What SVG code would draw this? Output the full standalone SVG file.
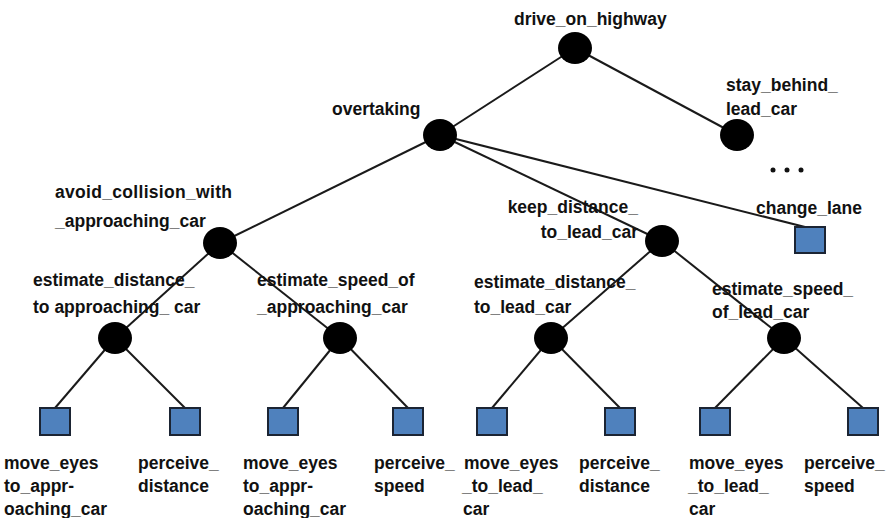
<svg xmlns="http://www.w3.org/2000/svg" width="888" height="518" viewBox="0 0 888 518">
  <style>
    .edge { stroke: #1a1a1a; stroke-width: 2; fill: none; }
    .goal { fill: #000; }
    .act { fill: #4f81bd; stroke: #1b2433; stroke-width: 2; }
    text { font-family: "Liberation Sans", Arial, sans-serif; font-weight: bold; font-size: 17.5px; fill: #111; }
  </style>
  <rect width="888" height="518" fill="#fff"/>

  <!-- connectors -->
  <g id="edges">
    <line class="edge" x1="575" y1="48" x2="440" y2="135"/>
    <line class="edge" x1="575" y1="48" x2="737" y2="135"/>
    <line class="edge" x1="440" y1="135" x2="220" y2="243"/>
    <line class="edge" x1="440" y1="135" x2="662" y2="241"/>
    <line class="edge" x1="440" y1="135" x2="809" y2="228"/>
    <line class="edge" x1="220" y1="243" x2="115" y2="338"/>
    <line class="edge" x1="220" y1="243" x2="340" y2="338"/>
    <line class="edge" x1="662" y1="241" x2="551" y2="338"/>
    <line class="edge" x1="662" y1="241" x2="784" y2="338"/>
    <line class="edge" x1="115" y1="338" x2="55" y2="408"/>
    <line class="edge" x1="115" y1="338" x2="185" y2="408"/>
    <line class="edge" x1="340" y1="338" x2="283" y2="408"/>
    <line class="edge" x1="340" y1="338" x2="408" y2="408"/>
    <line class="edge" x1="551" y1="338" x2="492" y2="408"/>
    <line class="edge" x1="551" y1="338" x2="620" y2="408"/>
    <line class="edge" x1="784" y1="338" x2="715" y2="408"/>
    <line class="edge" x1="784" y1="338" x2="863" y2="408"/>
  </g>

  <g id="drive_on_highway">
    <ellipse class="goal" cx="575" cy="48" rx="17" ry="16"/>
    <text x="514" y="25">drive_on_highway</text>
  </g>
  <g id="overtaking">
    <ellipse class="goal" cx="440" cy="135" rx="17" ry="16"/>
    <text x="332" y="115">overtaking</text>
  </g>
  <g id="stay_behind_lead_car">
    <ellipse class="goal" cx="737" cy="135" rx="17" ry="16"/>
    <text x="726" y="91">stay_behind_</text>
    <text x="726" y="115">lead_car</text>
  </g>
  <g id="more">
    <circle cx="773" cy="170" r="2.5" fill="#111"/>
    <circle cx="787" cy="170" r="2.5" fill="#111"/>
    <circle cx="801" cy="170" r="2.5" fill="#111"/>
  </g>
  <g id="change_lane">
    <rect class="act" x="795" y="227" width="30" height="26"/>
    <text x="756" y="214">change_lane</text>
  </g>
  <g id="avoid_collision_with_approaching_car">
    <ellipse class="goal" cx="220" cy="243" rx="17" ry="16"/>
    <text x="55" y="198" textLength="177">avoid_collision_with</text>
    <text x="55" y="227">_approaching_car</text>
  </g>
  <g id="keep_distance_to_lead_car">
    <ellipse class="goal" cx="662" cy="241" rx="17" ry="16"/>
    <text x="638" y="213" text-anchor="end">keep_distance_</text>
    <text x="638" y="238" text-anchor="end">to_lead_car</text>
  </g>

  <g id="estimate_distance_to_approaching_car">
    <ellipse class="goal" cx="115" cy="338" rx="17" ry="16"/>
    <text x="33" y="286">estimate_distance_</text>
    <text x="33" y="313">to approaching_ car</text>
  </g>
  <g id="estimate_speed_of_approaching_car">
    <ellipse class="goal" cx="340" cy="338" rx="17" ry="16"/>
    <text x="257" y="286">estimate_speed_of</text>
    <text x="257" y="313">_approaching_car</text>
  </g>
  <g id="estimate_distance_to_lead_car">
    <ellipse class="goal" cx="551" cy="338" rx="17" ry="16"/>
    <text x="474" y="288">estimate_distance_</text>
    <text x="474" y="313">to_lead_car</text>
  </g>
  <g id="estimate_speed_of_lead_car">
    <ellipse class="goal" cx="784" cy="338" rx="17" ry="16"/>
    <text x="712" y="295">estimate_speed_</text>
    <text x="712" y="318">of_lead_car</text>
  </g>

  <g id="leaf1">
    <rect class="act" x="40" y="408" width="30" height="27"/>
    <text x="4" y="469">move_eyes</text>
    <text x="4" y="492">to_appr-</text>
    <text x="4" y="515">oaching_car</text>
  </g>
  <g id="leaf2">
    <rect class="act" x="170" y="408" width="30" height="27"/>
    <text x="138" y="469">perceive_</text>
    <text x="138" y="492">distance</text>
  </g>
  <g id="leaf3">
    <rect class="act" x="268" y="408" width="30" height="27"/>
    <text x="243" y="469">move_eyes</text>
    <text x="243" y="492">to_appr-</text>
    <text x="243" y="515">oaching_car</text>
  </g>
  <g id="leaf4">
    <rect class="act" x="393" y="408" width="30" height="27"/>
    <text x="374" y="469">perceive_</text>
    <text x="374" y="492">speed</text>
  </g>
  <g id="leaf5">
    <rect class="act" x="477" y="408" width="30" height="27"/>
    <text x="464" y="469">move_eyes</text>
    <text x="462" y="492">_to_lead_</text>
    <text x="463" y="515">car</text>
  </g>
  <g id="leaf6">
    <rect class="act" x="605" y="408" width="30" height="27"/>
    <text x="579" y="469">perceive_</text>
    <text x="579" y="492">distance</text>
  </g>
  <g id="leaf7">
    <rect class="act" x="700" y="408" width="30" height="27"/>
    <text x="689" y="469">move_eyes</text>
    <text x="688" y="492">_to_lead_</text>
    <text x="689" y="515">car</text>
  </g>
  <g id="leaf8">
    <rect class="act" x="848" y="408" width="30" height="27"/>
    <text x="804" y="469">perceive_</text>
    <text x="804" y="492">speed</text>
  </g>
</svg>
